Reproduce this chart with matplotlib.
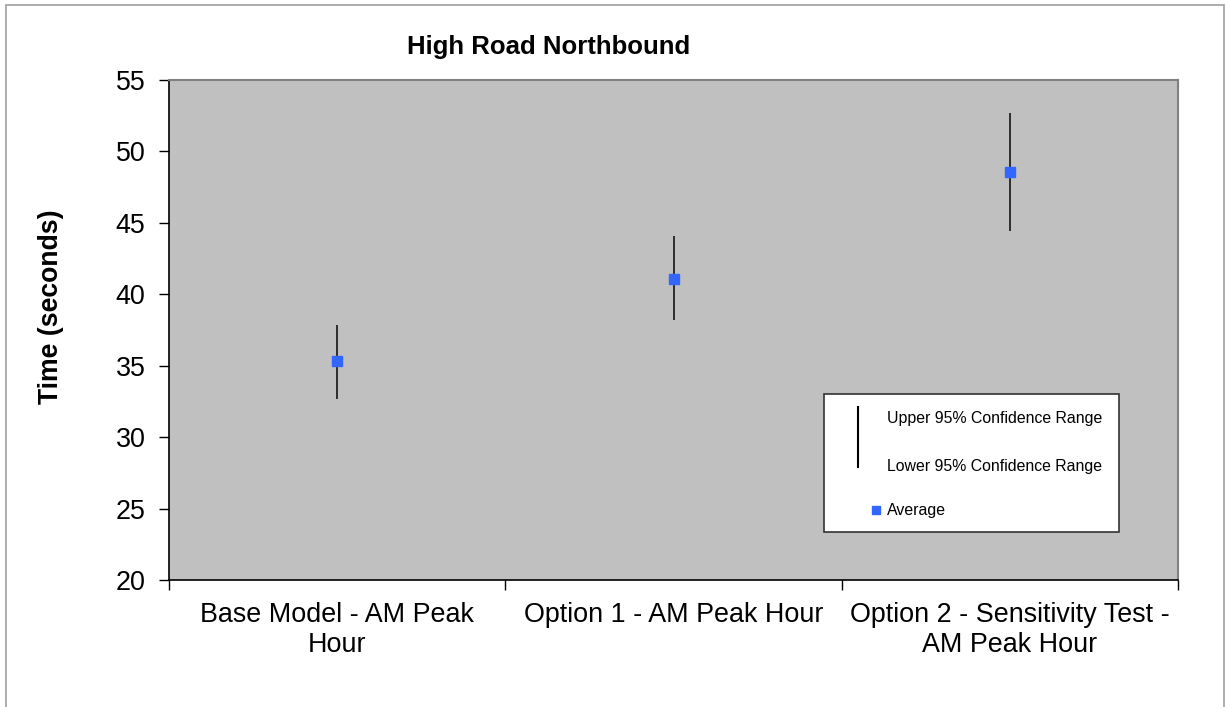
import matplotlib
matplotlib.use("Agg")
import matplotlib.pyplot as plt
from matplotlib.patches import Rectangle
from matplotlib.lines import Line2D

plt.rcParams['font.family'] = ['Liberation Sans', 'DejaVu Sans']

categories = ["Base Model - AM Peak\nHour", "Option 1 - AM Peak Hour",
              "Option 2 - Sensitivity Test -\nAM Peak Hour"]
upper = [37.85, 44.1, 52.7]
lower = [32.7, 38.2, 44.4]
average = [35.3, 41.1, 48.55]
legend_labels = ["Upper 95% Confidence Range", "Lower 95% Confidence Range", "Average"]
yticks = [20, 25, 30, 35, 40, 45, 50, 55]

fig = plt.figure(figsize=(12.26, 7.07), dpi=100)
ax = fig.add_axes([169/1226, 1-580/707, (1178-169)/1226, 500/707])
ax.set_facecolor('#C0C0C0')

x = list(range(len(categories)))
ax.vlines(x, lower, upper, colors='#222222', linewidth=1.3, zorder=2)
ax.plot(x, average, linestyle='none', marker='s', markersize=7.5,
        color='#3366FF', zorder=3)

ax.set_xlim(-0.5, len(categories) - 0.5)
ax.set_ylim(20, 55)
ax.set_yticks(yticks)
ax.set_yticklabels([str(v) for v in yticks], fontsize=19.4)
ax.set_xticks(x)
ax.set_xticklabels(categories, fontsize=19.4, linespacing=1.2)
ax.tick_params(axis='x', which='major', length=0, pad=16)
ax.set_xticks([i - 0.5 for i in range(len(categories) + 1)], minor=True)
ax.tick_params(axis='x', which='minor', length=7, width=1, color='black')
ax.tick_params(axis='y', length=7, width=1, color='black', pad=10)

for s in ['top', 'right']:
    ax.spines[s].set_color('#808080')
    ax.spines[s].set_linewidth(1.5)
for s in ['left', 'bottom']:
    ax.spines[s].set_color('black')
    ax.spines[s].set_linewidth(1.2)

# legend (manual, Excel style)
ax.add_patch(Rectangle((0.649, 0.096), 0.2925, 0.276, transform=ax.transAxes,
                       facecolor='white', edgecolor='#333333', linewidth=1.2, zorder=5))
ax.add_line(Line2D([0.683, 0.683], [0.226, 0.346], transform=ax.transAxes,
                   color='black', linewidth=1.5, zorder=6))
ax.text(0.7116, 0.322, legend_labels[0], transform=ax.transAxes, fontsize=11.4,
        va='center', ha='left', zorder=6)
ax.text(0.7116, 0.228, legend_labels[1], transform=ax.transAxes, fontsize=11.4,
        va='center', ha='left', zorder=6)
ax.plot([0.7007], [0.14], transform=ax.transAxes, marker='s', markersize=6,
        color='#3366FF', linestyle='none', zorder=6, clip_on=False)
ax.text(0.7116, 0.14, legend_labels[2], transform=ax.transAxes, fontsize=11.4,
        va='center', ha='left', zorder=6)

fig.text(0.4475, 0.9335, "High Road Northbound", fontsize=18.5, fontweight='bold',
         ha='center', va='center')
fig.text(0.0416, 0.566, "Time (seconds)", fontsize=19.2, fontweight='bold',
         ha='center', va='center', rotation=90)

fig.patches.append(Rectangle((6/1226, -0.1), (1224-6)/1226, 1-5/707+0.1,
                             transform=fig.transFigure, facecolor='none',
                             edgecolor='#A0A0A0', linewidth=1.2, clip_on=False))

fig.savefig('out.png', dpi=100)
